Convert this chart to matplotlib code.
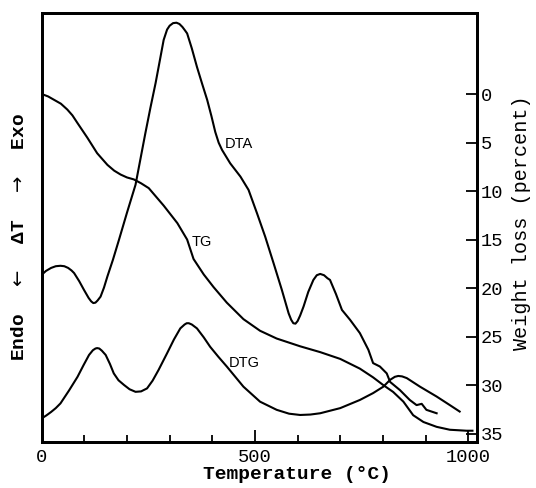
import numpy as np
import matplotlib.pyplot as plt

# DTA curve (arbitrary units, left axis 0-100)
temp_dta = [0, 10, 22, 33, 44, 53, 62, 70, 76, 88, 99, 110, 116, 121, 126,
            131, 138, 146, 154, 167, 181, 200, 220, 243, 255, 267, 277, 286,
            294, 300, 308, 316, 323, 330, 336, 341, 352, 364, 376, 388, 398,
            407, 415, 423, 442, 466, 485, 505, 524, 544, 563, 579, 585, 590,
            595, 600, 606, 614, 625, 637, 645, 653, 662, 670, 676, 690, 704,
            723, 746, 766, 777, 793, 809, 817, 840, 863, 879, 891, 902, 926]
dta = [39.0, 39.9, 40.6, 41.0, 41.1, 41.0, 40.6, 40.0, 39.4, 37.5, 35.5, 33.6,
       32.8, 32.4, 32.5, 33.0, 33.9, 36.0, 38.6, 42.5, 47.1, 53.5, 60.0, 72.0,
       78.0, 83.7, 89.0, 93.8, 96.2, 97.1, 97.7, 97.8, 97.5, 96.8, 96.0, 95.3,
       91.8, 87.5, 83.6, 79.8, 76.0, 72.3, 69.8, 68.1, 65.0, 61.9, 58.8, 53.3,
       47.9, 41.6, 35.5, 30.0, 28.5, 27.7, 27.6, 28.2, 29.5, 31.6, 35.0, 37.8,
       38.9, 39.2, 38.9, 38.2, 37.8, 34.5, 30.8, 28.5, 25.4, 21.5, 18.4, 17.6,
       16.0, 14.0, 12.1, 9.8, 8.6, 8.9, 7.5, 6.7]

# DTG curve (arbitrary units, left axis 0-100)
temp_dtg = [0, 11, 22, 33, 44, 64, 84, 98, 111, 120, 126, 130, 135, 141, 150,
            160, 169, 180, 193, 206, 220, 233, 247, 260, 274, 294, 310, 325,
            335, 340, 345, 352, 364, 380, 395, 414, 434, 473, 512, 551, 580,
            606, 630, 653, 700, 746, 777, 801, 817, 828, 836, 845, 856, 887,
            926, 957, 980]
dtg = [5.5, 6.2, 7.0, 7.9, 9.0, 12.0, 15.2, 17.9, 20.3, 21.4, 21.8, 21.9,
       21.8, 21.3, 20.3, 18.2, 16.0, 14.4, 13.3, 12.3, 11.7, 11.8, 12.5, 14.3,
       16.8, 20.7, 23.9, 26.5, 27.4, 27.7, 27.7, 27.4, 26.5, 24.4, 22.2, 19.9,
       17.6, 12.9, 9.4, 7.5, 6.6, 6.3, 6.4, 6.7, 7.9, 9.8, 11.4, 12.9, 14.5,
       15.2, 15.4, 15.3, 14.9, 12.9, 10.6, 8.6, 7.1]

# TG curve (weight loss, percent, right axis)
temp_tg = [0, 15, 29, 45, 60, 72, 84, 107, 130, 154, 170, 185, 200, 216, 233,
           251, 286, 318, 341, 356, 380, 403, 434, 473, 512, 551, 606, 653,
           700, 746, 777, 801, 824, 848, 871, 895, 926, 957, 996, 1010]
tg = [0.0, 0.25, 0.6, 1.0, 1.6, 2.2, 3.0, 4.5, 6.1, 7.3, 7.9, 8.3, 8.6, 8.8,
      9.2, 9.7, 11.5, 13.3, 15.0, 17.0, 18.6, 19.9, 21.5, 23.2, 24.4, 25.2,
      26.0, 26.6, 27.3, 28.3, 29.2, 30.0, 30.7, 31.7, 33.1, 33.8, 34.3, 34.6,
      34.7, 34.7]

x_major = [0, 500, 1000]
x_minor = [100, 200, 300, 400, 600, 700, 800, 900]
wl_ticks = [0, 5, 10, 15, 20, 25, 30, 35]

mono = ['Liberation Mono', 'DejaVu Sans Mono']
sans = ['Liberation Sans', 'DejaVu Sans']

fig = plt.figure(figsize=(5.36, 4.88), dpi=100)
ax = fig.add_axes([0.0778, 0.0943, 0.8116, 0.8785])

ax.plot(temp_dta, dta, color='black', lw=1.5)
ax.plot(temp_dtg, dtg, color='black', lw=1.5)
ax.set_xlim(0, 1020)
ax.set_ylim(0, 100)
ax.set_yticks([])
ax.set_xticks(x_major)
ax.set_xticks(x_minor, minor=True)
ax.tick_params(axis='x', which='major', direction='in', length=9, width=1.3,
               labelsize=13.5, pad=5)
ax.tick_params(axis='x', which='minor', direction='in', length=5, width=1.3)
for lab in ax.get_xticklabels():
    lab.set_family(mono)

ax.text(430, 69.5, 'DTA', fontsize=10.5, family=sans, va='center', ha='left')
ax.text(438, 18.5, 'DTG', fontsize=10.5, family=sans, va='center', ha='left')

ax.set_xlabel('Temperature (\u00b0C)', fontsize=14, family=mono,
              fontweight='bold')
ax.xaxis.set_label_coords(0.587, -0.056)
ax.set_ylabel('Endo  $\\leftarrow$  \u0394T  $\\rightarrow$  Exo', fontsize=14,
              family=mono, fontweight='bold', va='center')
ax.yaxis.set_label_coords(-0.052, 0.478)

ax2 = ax.twinx()
ax2.plot(temp_tg, tg, color='black', lw=1.5)
ax2.set_ylim(35.86, -8.32)
ax2.set_yticks(wl_ticks)
ax2.tick_params(axis='y', direction='in', length=8, width=1.3,
                labelsize=13.5, pad=3)
for lab in ax2.get_yticklabels():
    lab.set_family(mono)
ax2.text(352, 15.3, 'TG', fontsize=10.5, family=sans, va='center', ha='left')
ax2.set_ylabel('Weight loss (percent)', fontsize=14.5, family=mono,
               va='center', rotation=90)
ax2.yaxis.set_label_coords(1.104, 0.511)

for a in (ax, ax2):
    for sp in a.spines.values():
        sp.set_linewidth(2)

fig.savefig('out.png', dpi=100)
